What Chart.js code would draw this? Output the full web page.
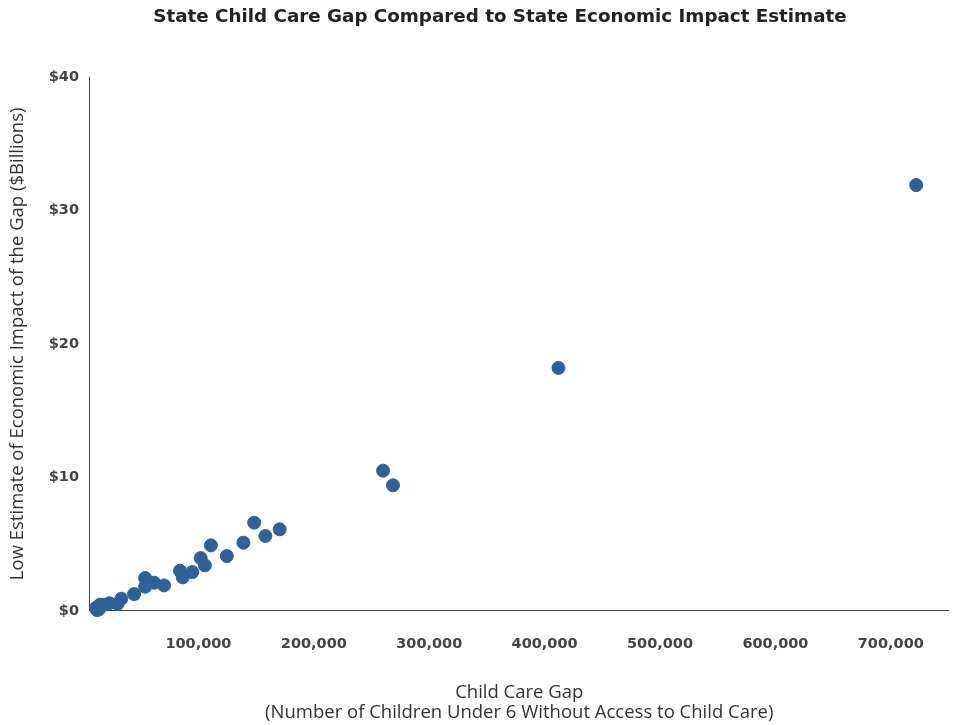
<!DOCTYPE html>
<html>
<head>
<meta charset="utf-8">
<script src="https://cdn.jsdelivr.net/npm/chart.js@4"></script>
<style>
  html, body { margin: 0; padding: 0; background: #fff; }
  #wrap { width: 956px; height: 725px; }
</style>
</head>
<body>
<div id="wrap"><canvas id="gap-chart" width="956" height="725"></canvas></div>
<script>
// children under 6 without access to child care, per state
const childCareGap = [
  722000, 412000, 260000, 268600, 170400, 148300, 158000, 139000, 124600,
  110800, 101900, 105600, 94700, 84000, 86400, 70200, 61600, 53800, 53800,
  44300, 33200, 30000, 22700, 18100, 14700, 13600, 12100, 11200
];
// low estimate of economic impact, $ billions
const impactBillions = [
  31.9, 18.2, 10.5, 9.4, 6.1, 6.6, 5.6, 5.1, 4.1,
  4.9, 3.95, 3.4, 2.9, 3.0, 2.5, 1.9, 2.1, 2.45, 1.8,
  1.25, 0.9, 0.52, 0.56, 0.45, 0.45, 0.1, 0.05, 0.22
];
const xTicks = [100000, 200000, 300000, 400000, 500000, 600000, 700000];
const yTicks = [0, 10, 20, 30, 40];

const chartTitle = "State Child Care Gap Compared to State Economic Impact Estimate";
const dotColor = "#2f6198";
const axisColor = "#444";
const tickColor = "#444";
const labelColor = "#333";

const points = childCareGap.map((gap, i) => ({ x: gap, y: impactBillions[i] }));

// the original title sits a little right of the page centre, so draw it by hand
const headerTitle = {
  id: "headerTitle",
  afterDraw(chart) {
    const ctx = chart.ctx;
    ctx.save();
    ctx.font = "bold 18.3px 'DejaVu Sans'";
    ctx.fillStyle = "#222";
    ctx.textAlign = "center";
    ctx.textBaseline = "middle";
    ctx.fillText(chartTitle, 500, 17);
    ctx.restore();
  }
};

new Chart(document.getElementById("gap-chart"), {
  type: "scatter",
  data: {
    datasets: [{
      label: "States",
      data: points,
      backgroundColor: dotColor,
      borderColor: dotColor,
      pointRadius: 6.5,
      pointHoverRadius: 6.5,
      clip: false
    }]
  },
  options: {
    responsive: false,
    animation: false,
    layout: { padding: { left: 4, right: 2, top: 77, bottom: 2 } },
    plugins: {
      legend: { display: false },
      tooltip: { enabled: false },
      title: { display: false }
    },
    scales: {
      x: {
        type: "linear",
        min: 6000,
        max: 750000,
        afterBuildTicks: (axis) => { axis.ticks = xTicks.map((v) => ({ value: v })); },
        border: { display: true, color: axisColor, width: 1 },
        grid: { display: false, drawTicks: false },
        ticks: {
          padding: 24.3,
          color: tickColor,
          font: { family: "DejaVu Sans", size: 14.5, weight: "bold", lineHeight: 1.2 },
          callback: (v) => v.toLocaleString("en-US")
        },
        title: {
          display: true,
          text: ["Child Care Gap", "(Number of Children Under 6 Without Access to Child Care)"],
          color: labelColor,
          font: { family: "Open Sans", size: 18.5, lineHeight: 1.08 },
          padding: { top: 6.3, bottom: 0 }
        }
      },
      y: {
        min: 0,
        max: 40,
        afterBuildTicks: (axis) => { axis.ticks = yTicks.map((v) => ({ value: v })); },
        border: { display: true, color: axisColor, width: 1 },
        grid: { display: false, drawTicks: false },
        ticks: {
          padding: 11,
          color: tickColor,
          font: { family: "DejaVu Sans", size: 14.5, weight: "bold", lineHeight: 1.2 },
          callback: (v) => "$" + v
        },
        title: {
          display: true,
          text: "Low Estimate of Economic Impact of the Gap ($Billions)",
          color: labelColor,
          font: { family: "Open Sans", size: 18.5, lineHeight: 1.2 },
          padding: { top: 2.9, bottom: 8.6 }
        }
      }
    }
  },
  plugins: [headerTitle]
});
</script>
</body>
</html>
